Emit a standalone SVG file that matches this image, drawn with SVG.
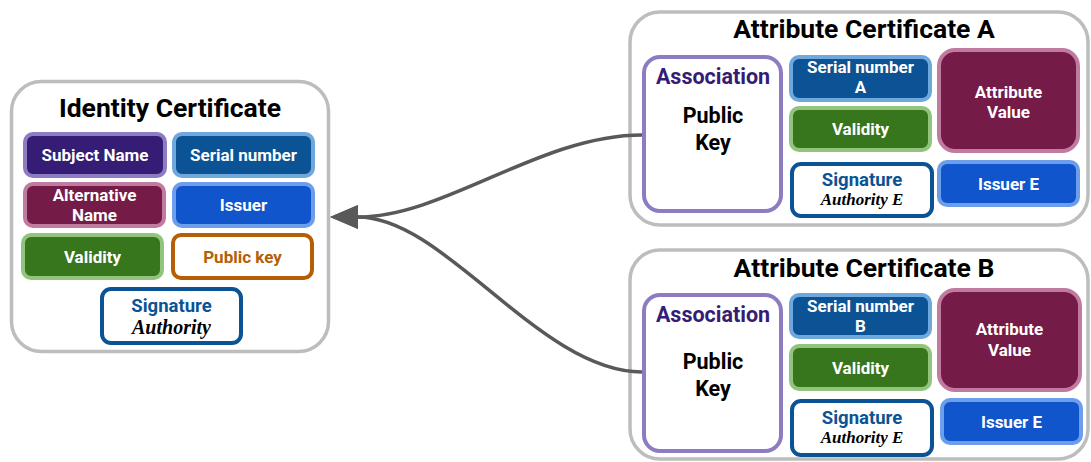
<svg xmlns="http://www.w3.org/2000/svg" width="1091" height="462" viewBox="0 0 1091 462">
  <style>
    text { font-family: Roboto, "Liberation Sans", sans-serif; font-weight: bold; text-anchor: middle; }
    .cert { fill: #ffffff; stroke: #bdbdbd; stroke-width: 3.5; }
    .title { font-size: 26.5px; fill: #000000; }
    .lbl { font-size: 17px; fill: #ffffff; }
    .purple { fill: #351c75; stroke: #8e7cc3; stroke-width: 4; }
    .navy { fill: #0b5394; stroke: #6fa8dc; stroke-width: 4; }
    .wine { fill: #741b47; stroke: #c27ba0; stroke-width: 4; }
    .blue { fill: #1155cc; stroke: #6d9eeb; stroke-width: 4; }
    .green { fill: #38761d; stroke: #93c47d; stroke-width: 4; }
    .orange { fill: #ffffff; stroke: #b45f06; stroke-width: 4; }
    .sig { fill: #ffffff; stroke: #0b5394; stroke-width: 4; }
    .assoc { fill: #ffffff; stroke: #8e7cc3; stroke-width: 4; }
    .sigtxt { font-size: 18.5px; fill: #0b5394; }
    .script { font-family: "Liberation Serif", serif; font-style: italic; font-weight: bold; font-size: 17px; fill: #000000; }
    .script-lg { font-size: 20px; }
    .assoctxt { font-size: 21.5px; fill: #351c75; }
    .pk { font-size: 21.5px; fill: #000000; }
    .link { fill: none; stroke: #595959; stroke-width: 3.5; }
  </style>
  <defs>
    <marker id="arrow" markerUnits="userSpaceOnUse" markerWidth="28" markerHeight="24" viewBox="0 0 28 24" refX="0" refY="12" orient="auto">
      <path d="M0 0 L28 12 L0 24 z" fill="#595959"/>
    </marker>
  </defs>

  <!-- Identity certificate -->
  <g id="identity-certificate">
    <rect class="cert" x="11.5" y="81.5" width="317" height="270" rx="30"/>
    <text class="title" x="170" y="117">Identity Certificate</text>
  </g>
  <g id="subject-name">
    <rect class="purple" x="25" y="134" width="140" height="42" rx="8"/>
    <text class="lbl" x="95" y="161">Subject Name</text>
  </g>
  <g id="serial-number">
    <rect class="navy" x="174" y="134" width="139" height="42" rx="8"/>
    <text class="lbl" x="243.5" y="161">Serial number</text>
  </g>
  <g id="alternative-name">
    <rect class="wine" x="25" y="184" width="139" height="42" rx="8"/>
    <text class="lbl" x="94.5" y="200.5">Alternative</text>
    <text class="lbl" x="94.5" y="220.5">Name</text>
  </g>
  <g id="issuer">
    <rect class="blue" x="174" y="184" width="139" height="42" rx="8"/>
    <text class="lbl" x="243.5" y="211">Issuer</text>
  </g>
  <g id="validity">
    <rect class="green" x="23" y="235" width="139" height="43" rx="8"/>
    <text class="lbl" x="92.5" y="263">Validity</text>
  </g>
  <g id="public-key">
    <rect class="orange" x="173" y="235" width="139" height="43" rx="8"/>
    <text class="lbl" x="242.5" y="263" style="fill:#b45f06">Public key</text>
  </g>
  <g id="signature-authority">
    <rect class="sig" x="102" y="289" width="139" height="54" rx="9"/>
    <text class="sigtxt" x="171.5" y="311.5">Signature</text>
    <text class="script script-lg" x="171.5" y="334">Authority</text>
  </g>

  <!-- Attribute certificate A -->
  <g id="attribute-certificate-a">
    <rect class="cert" x="630" y="12" width="458" height="213" rx="30"/>
    <text class="title" x="864" y="38">Attribute Certificate A</text>
  </g>
  <g id="association-a">
    <rect class="assoc" x="644" y="57" width="137" height="154" rx="16"/>
    <text class="assoctxt" x="713" y="84">Association</text>
    <text class="pk" x="713" y="123">Public</text>
    <text class="pk" x="713" y="150">Key</text>
  </g>
  <g id="serial-number-a">
    <rect class="navy" x="791" y="57" width="139" height="43" rx="8"/>
    <text class="lbl" x="860.5" y="72.5">Serial number</text>
    <text class="lbl" x="860.5" y="93">A</text>
  </g>
  <g id="validity-a">
    <rect class="green" x="791" y="108" width="139" height="42" rx="8"/>
    <text class="lbl" x="860.5" y="135">Validity</text>
  </g>
  <g id="signature-authority-a">
    <rect class="sig" x="792" y="164" width="140" height="52" rx="9"/>
    <text class="sigtxt" x="862" y="186">Signature</text>
    <text class="script" x="862" y="205">Authority E</text>
  </g>
  <g id="attribute-value-a">
    <rect class="wine" x="939" y="50" width="139" height="101" rx="16"/>
    <text class="lbl" x="1008.5" y="97.5">Attribute</text>
    <text class="lbl" x="1008.5" y="118">Value</text>
  </g>
  <g id="issuer-e-a">
    <rect class="blue" x="939" y="162" width="139" height="43" rx="8"/>
    <text class="lbl" x="1008.5" y="189.5">Issuer E</text>
  </g>

  <!-- Attribute certificate B -->
  <g id="attribute-certificate-b">
    <rect class="cert" x="630" y="250" width="458" height="209" rx="30"/>
    <text class="title" x="864" y="277">Attribute Certificate B</text>
  </g>
  <g id="association-b">
    <rect class="assoc" x="644" y="295" width="137" height="156" rx="16"/>
    <text class="assoctxt" x="713" y="322">Association</text>
    <text class="pk" x="713" y="369">Public</text>
    <text class="pk" x="713" y="396">Key</text>
  </g>
  <g id="serial-number-b">
    <rect class="navy" x="791" y="295" width="139" height="42" rx="8"/>
    <text class="lbl" x="860.5" y="311.5">Serial number</text>
    <text class="lbl" x="860.5" y="332">B</text>
  </g>
  <g id="validity-b">
    <rect class="green" x="791" y="346" width="139" height="43" rx="8"/>
    <text class="lbl" x="860.5" y="373.5">Validity</text>
  </g>
  <g id="signature-authority-b">
    <rect class="sig" x="792" y="401" width="140" height="54" rx="9"/>
    <text class="sigtxt" x="862" y="424">Signature</text>
    <text class="script" x="862" y="443">Authority E</text>
  </g>
  <g id="attribute-value-b">
    <rect class="wine" x="939" y="290" width="141" height="100" rx="16"/>
    <text class="lbl" x="1009.5" y="335">Attribute</text>
    <text class="lbl" x="1009.5" y="356">Value</text>
  </g>
  <g id="issuer-e-b">
    <rect class="blue" x="942" y="400" width="139" height="43" rx="8"/>
    <text class="lbl" x="1011.5" y="428">Issuer E</text>
  </g>

  <!-- Connectors: attribute certificates point back to the identity certificate -->
  <g id="connectors">
    <path class="link" d="M642 135 C540 135 445 217 358 217" marker-end="url(#arrow)"/>
    <path class="link" d="M642 372 C540 372 445 217 358 217" marker-end="url(#arrow)"/>
  </g>
</svg>
